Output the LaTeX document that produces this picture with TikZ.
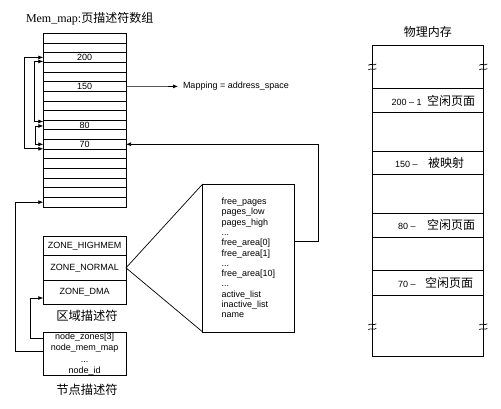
\documentclass[tikz,border=0pt]{standalone}
\usepackage{fontspec}
\setmainfont{Liberation Serif}
\setsansfont{Liberation Sans}
\newfontfamily\cjk{Noto Sans CJK SC}
\usetikzlibrary{arrows.meta}
\begin{document}
\begin{tikzpicture}[x=1pt,y=-1pt,
  every node/.style={inner sep=0pt, outer sep=0pt},
  thinline/.style={line width=0.7pt},
  arr/.style={line width=0.7pt, -{Latex[length=5pt,width=4pt]}},
  darr/.style={line width=0.7pt, {Latex[length=5pt,width=4pt]}-{Latex[length=5pt,width=4pt]}},
  lbl/.style={font=\fontsize{9}{10.3}\selectfont\sffamily},
  rowbox/.style={draw, line width=0.7pt, minimum width=82.7pt, minimum height=9.65pt},
  zbox/.style={draw, line width=0.7pt, minimum width=82.7pt, lbl},
  pmbox/.style={draw, line width=0.7pt, minimum width=111pt},
  cjklbl/.style={font=\fontsize{12.3}{14}\selectfont\cjk},
  brk/.style={line width=0.7pt},
]
\useasboundingbox (0,0) rectangle (501,408);

% title
\node[font=\fontsize{12}{14}\selectfont, anchor=west] (title) at (26,19) {Mem\_map:{\cjk 页描述符数组}};

% mem_map rows
\foreach \i in {0,...,17}
  \node[rowbox] (r\i) at (84.65,{33.3+9.65*(\i+0.5)}) {};
\node[lbl] (t200) at (r2) {200};
\node[lbl] (t150) at (r5) {150};
\node[lbl] (t80) at (r9) {80};
\node[lbl] (t70) at (r11) {70};

% free list loops
\draw[darr] (r2.west) -- ++(-19.3,0) |- ([yshift=-4.5pt]r11.west);
\draw[darr] ([yshift=-4pt]r2.west) -- ++(-9.3,0) |- ([yshift=3.5pt]r9.west);
\draw[darr] ([yshift=-1pt]r9.west) -- ++(-8,0) |- (r11.west);

% mapping
\node[lbl, anchor=west] (map) at (183,86.4) {Mapping = address\_space};
\draw[arr] (r5.east) -- ([xshift=-5pt]map.west);

% zone descriptors
\node[zbox, minimum height=19pt] (zh) at (84.65,246.2) {ZONE\_HIGHMEM};
\node[zbox, minimum height=24.3pt] (zn) at (84.65,267.85) {ZONE\_NORMAL};
\node[zbox, minimum height=24pt] (zd) at (84.65,292) {ZONE\_DMA};
\node[cjklbl] (zlab) at (87,316) {区域描述符};

% zone struct
\node[draw, thinline, minimum width=91.3pt, minimum height=148pt, lbl, align=left] (zs) at (248.35,258)
  {free\_pages\\pages\_low\\pages\_high\\...\\free\_area[0]\\free\_area[1]\\...\\free\_area[10]\\...\\active\_list\\inactive\_list\\name};
\draw[thinline] (zs.north west) -- (zn.east) -- (zs.south west);
\draw[arr] ([yshift=17pt]zs.east) -- ++(24,0) |- (r11.east);

% node descriptor
\node[draw, thinline, minimum width=82.7pt, minimum height=43pt, align=center, font=\fontsize{9}{11.2}\selectfont\sffamily] (nd) at (84.65,354.2)
  {node\_zones[3]\\node\_mem\_map\\...\\node\_id};
\node[cjklbl] (nlab) at (87,390) {节点描述符};
\draw[arr] ([yshift=16pt]nd.west) -- ++(-13.3,0) |- ([yshift=-6pt]zd.west);
\draw[arr] ([yshift=3pt]nd.west) -- ++(-28.3,0) |- (r17.west);

% physical memory
\node[font=\fontsize{12}{14}\selectfont\cjk] (pmtitle) at (427.8,31.7) {物理内存};
\node[pmbox, minimum height=43.3pt] (pa) at (427.8,66.65) {};
\node[pmbox, minimum height=24.4pt] (p200) at (427.8,100.5) {};
\node[pmbox, minimum height=38.3pt] (pb) at (427.8,131.85) {};
\node[pmbox, minimum height=23.3pt] (p150) at (427.8,162.65) {};
\node[pmbox, minimum height=39pt] (pc) at (427.8,193.8) {};
\node[pmbox, minimum height=24pt] (p80) at (427.8,225.3) {};
\node[pmbox, minimum height=33.4pt] (pd) at (427.8,254) {};
\node[pmbox, minimum height=24.3pt] (p70) at (427.8,282.85) {};
\node[pmbox, minimum height=61.7pt] (pe) at (427.8,325.85) {};

\node[anchor=west] (l200) at (391.7,100.5) {{\fontsize{9}{10}\selectfont\sffamily 200 – 1}\hspace{5.3pt}{\fontsize{12}{14}\selectfont\cjk 空闲页面}};
\node[anchor=west] (l150) at (395,162.65) {{\fontsize{9}{10}\selectfont\sffamily 150 –}\hspace{10.5pt}{\fontsize{12}{14}\selectfont\cjk 被映射}};
\node[anchor=west] (l80) at (398,225.3) {{\fontsize{9}{10}\selectfont\sffamily 80 –}\hspace{11.5pt}{\fontsize{12}{14}\selectfont\cjk 空闲页面}};
\node[anchor=west] (l70) at (398,282.85) {{\fontsize{9}{10}\selectfont\sffamily 70 –}\hspace{9.5pt}{\fontsize{12}{14}\selectfont\cjk 空闲页面}};

% break marks
\foreach \bx in {372.3,483.3}
  \foreach \by in {64.6,69.2,324.4,329}
    \draw[brk] (\bx-4,\by+0.6) .. controls (\bx-1.5,\by-1.4) and (\bx+1.5,\by+1.4) .. (\bx+4,\by-0.6);
\end{tikzpicture}
\end{document}
